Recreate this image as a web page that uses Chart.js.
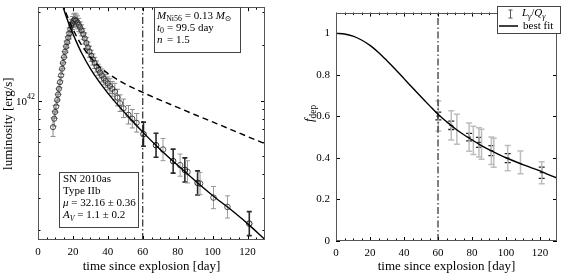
<!DOCTYPE html>
<html>
<head>
<meta charset="utf-8">
<script src="https://cdn.jsdelivr.net/npm/chart.js@4.4.1/dist/chart.umd.min.js"></script>
<style>
html, body { margin: 0; padding: 0; background: #fff; }
#wrap { position: relative; width: 562px; height: 275px; }
canvas { position: absolute; top: 0; }
</style>
</head>
<body>
<div id="wrap">
  <canvas id="lumChart" style="left:0;width:280px;height:275px"></canvas>
  <canvas id="depChart" style="left:280px;width:282px;height:275px"></canvas>
</div>
<script>
// axes
const dayTicks = [0, 20, 40, 60, 80, 100, 120];
const dayMinor = [5, 10, 15, 25, 30, 35, 45, 50, 55, 65, 70, 75, 85, 90, 95, 105, 110, 115, 125];
const dayRange = [0, 130];
const lumTicks = [2e41, 3e41, 4e41, 5e41, 6e41, 7e41, 8e41, 9e41, 1e42, 2e42, 3e42];
const lumRange = [1.77e41, 3.2e42];
const depTicks = [0, 0.2, 0.4, 0.6, 0.8, 1];
const depRange = [0, 1.1];
const markerDay = 60;

// left panel: bolometric light curve (erg/s), errors in dex
const earlyDays = [8.6, 9.3, 9.8, 10.4, 11.0, 11.5, 12.0, 12.6, 13.2, 13.8,
  14.3, 14.9, 15.5, 16.1, 16.7, 17.3, 17.9, 18.5, 19.1, 19.7,
  20.4, 21.1, 21.8, 22.6, 23.4, 24.2, 25.0, 25.9, 26.8, 27.7,
  28.6, 29.5, 30.5, 31.5, 32.5, 33.5, 34.5, 35.5, 36.6, 37.7,
  38.8, 40.0, 41.2, 42.5, 44.0, 45.5, 47.0, 49.0, 51.8, 54.0, 56.5];
const earlyLum = [0.72e42, 0.80e42, 0.87e42, 0.93e42, 1.01e42, 1.08e42, 1.16e42, 1.26e42, 1.37e42, 1.49e42,
  1.60e42, 1.72e42, 1.84e42, 1.96e42, 2.07e42, 2.19e42, 2.31e42, 2.43e42, 2.54e42, 2.63e42,
  2.71e42, 2.74e42, 2.71e42, 2.65e42, 2.57e42, 2.49e42, 2.40e42, 2.29e42, 2.17e42, 2.05e42,
  1.94e42, 1.84e42, 1.75e42, 1.67e42, 1.60e42, 1.53e42, 1.47e42, 1.42e42, 1.37e42, 1.32e42,
  1.28e42, 1.24e42, 1.20e42, 1.16e42, 1.12e42, 1.04e42, 0.97e42, 0.91e42, 0.84e42, 0.80e42, 0.76e42];
const earlyErr = [0.05, 0.04, 0.035, 0.03, 0.03, 0.03, 0.03, 0.03, 0.03, 0.03,
  0.03, 0.03, 0.03, 0.03, 0.03, 0.03, 0.03, 0.035, 0.035, 0.035,
  0.035, 0.035, 0.035, 0.035, 0.035, 0.03, 0.03, 0.03, 0.03, 0.03,
  0.03, 0.03, 0.03, 0.03, 0.03, 0.03, 0.03, 0.03, 0.035, 0.035,
  0.035, 0.035, 0.04, 0.04, 0.045, 0.045, 0.045, 0.05, 0.05, 0.05, 0.05];

const lateBlackDays = [60.4, 67.6, 77.4, 84.1, 91.4, 121];
const lateBlackLum = [6.6e41, 5.75e41, 4.72e41, 4.23e41, 3.6e41, 2.17e41];
const lateBlackErr = [0.065, 0.065, 0.065, 0.065, 0.065, 0.065];
const lateGreyDays = [71.6, 81.4, 85.6, 92.8, 100.5, 108.5];
const lateGreyLum = [5.45e41, 4.49e41, 4.13e41, 3.57e41, 3.0e41, 2.67e41];
const lateGreyErr = [0.06, 0.06, 0.06, 0.06, 0.06, 0.06];

const modelDays = [13, 14, 15, 16, 18, 20, 22, 25, 30, 35, 40, 45, 50, 55, 60, 70, 80, 90, 100, 110, 120, 130];
const modelLum = [3.50e42, 3.27e42, 3.07e42, 2.88e42, 2.56e42, 2.30e42, 2.08e42, 1.81e42, 1.49e42, 1.267e42, 1.099e42,
  0.965e42, 0.856e42, 0.760e42, 0.677e42, 0.546e42, 0.448e42, 0.370e42, 0.308e42, 0.260e42, 0.217e42, 0.178e42];
const fullDays = [14, 15, 16, 18, 20, 22, 25, 30, 35, 40, 50, 60, 70, 80, 90, 100, 110, 120, 130];
const fullLum = [3.37e42, 3.17e42, 2.99e42, 2.69e42, 2.44e42, 2.235e42, 1.995e42, 1.717e42, 1.534e42, 1.405e42,
  1.231e42, 1.109e42, 1.008e42, 0.920e42, 0.840e42, 0.768e42, 0.702e42, 0.641e42, 0.586e42];

// right panel: deposition fraction
const depBlackDays = [60.2, 67.8, 78.3, 84.1, 91.4, 101, 121];
const depBlackVals = [0.602, 0.557, 0.500, 0.475, 0.435, 0.399, 0.329];
const depBlackErr = [0.019, 0.02, 0.018, 0.024, 0.024, 0.022, 0.027];
const depGreyDays = [60.2, 67.8, 71.1, 78.3, 80.8, 84.1, 85.6, 91.4, 92.8, 101, 108.5, 121];
const depGreyVals = [0.602, 0.557, 0.538, 0.500, 0.485, 0.475, 0.466, 0.435, 0.425, 0.399, 0.379, 0.329];
const depGreyErr = [0.072, 0.07, 0.072, 0.068, 0.068, 0.07, 0.072, 0.066, 0.07, 0.061, 0.055, 0.053];
const fitDays = [0, 5, 10, 15, 20, 25, 30, 35, 40, 45, 50, 55, 60, 65, 70, 75, 80, 85, 90, 95, 100, 105, 110, 115, 120, 125, 130];
const fitDep = [1.000, 0.997, 0.987, 0.968, 0.942, 0.908, 0.868, 0.826, 0.782, 0.738, 0.695, 0.652, 0.610, 0.575,
  0.542, 0.513, 0.487, 0.462, 0.440, 0.420, 0.401, 0.384, 0.368, 0.352, 0.338, 0.320, 0.303];

const serif = "'Liberation Serif', 'DejaVu Serif', serif";
const pts = (xs, ys) => xs.map((x, i) => ({ x: x, y: ys[i] }));

function mathText(ctx, parts, x, y, size) {
  let cx = x;
  parts.forEach(([t, s]) => {
    let fs = size, dy = 0, it = false;
    if (s === 'i') it = true;
    if (s === 'sub') { fs = size * 0.72; dy = size * 0.3; }
    if (s === 'isub') { fs = size * 0.72; dy = size * 0.3; it = true; }
    if (s === 'sup') { fs = size * 0.72; dy = -size * 0.4; }
    ctx.font = (it ? 'italic ' : '') + fs + 'px ' + serif;
    ctx.fillText(t, cx, y + dy);
    cx += ctx.measureText(t).width;
  });
  return cx;
}

const errorBars = {
  id: 'errorBars',
  beforeDatasetsDraw(chart) {
    const ctx = chart.ctx, xs = chart.scales.x, ys = chart.scales.y, a = chart.chartArea;
    ctx.save();
    ctx.beginPath();
    ctx.rect(a.left, a.top, a.right - a.left, a.bottom - a.top);
    ctx.clip();
    chart.data.datasets.forEach(ds => {
      if (!ds.err) return;
      ctx.strokeStyle = ds.errColor;
      ctx.lineWidth = ds.errWidth;
      ds.data.forEach((p, j) => {
        const e = ds.err[j];
        const lo = ds.logErr ? p.y / Math.pow(10, e) : p.y - e;
        const hi = ds.logErr ? p.y * Math.pow(10, e) : p.y + e;
        const px = xs.getPixelForValue(p.x);
        const y1 = ys.getPixelForValue(lo), y2 = ys.getPixelForValue(hi);
        const c = ds.cap;
        ctx.beginPath();
        ctx.moveTo(px, y1); ctx.lineTo(px, y2);
        ctx.moveTo(px - c, y1); ctx.lineTo(px + c, y1);
        ctx.moveTo(px - c, y2); ctx.lineTo(px + c, y2);
        ctx.stroke();
      });
    });
    ctx.restore();
  }
};

// frame, inward ticks on all sides, text boxes
const frame = {
  id: 'frame',
  afterDatasetsDraw(chart, args, opts) {
    const ctx = chart.ctx, a = chart.chartArea, xs = chart.scales.x, ys = chart.scales.y;
    ctx.save();
    ctx.strokeStyle = '#000';
    ctx.lineWidth = 1;
    const tick = (vals, len) => {
      vals.forEach(v => {
        const px = Math.round(xs.getPixelForValue(v)) + 0.5;
        ctx.beginPath();
        ctx.moveTo(px, a.bottom); ctx.lineTo(px, a.bottom - len);
        ctx.moveTo(px, a.top); ctx.lineTo(px, a.top + len);
        ctx.stroke();
      });
    };
    tick(dayTicks, 4);
    tick(dayMinor, 2.5);
    opts.yTicks.forEach(v => {
      const py = Math.round(ys.getPixelForValue(v)) + 0.5;
      const len = v === opts.yMajor || opts.yMajor === undefined ? 4 : 2.5;
      ctx.beginPath();
      ctx.moveTo(a.left, py); ctx.lineTo(a.left + len, py);
      ctx.moveTo(a.right, py); ctx.lineTo(a.right - len, py);
      ctx.stroke();
    });
    ctx.strokeStyle = '#555';
    ctx.strokeRect(Math.round(a.left) + 0.5, Math.round(a.top) + 0.5,
      Math.round(a.right - a.left) - 1, Math.round(a.bottom - a.top) - 1);
    ctx.restore();
    if (opts.draw) opts.draw(ctx, chart);
  }
};

function drawLumText(ctx, chart) {
  const ys = chart.scales.y;
  ctx.save();
  ctx.fillStyle = '#000';
  ctx.textBaseline = 'middle';
  // y tick label 10^42
  const py = ys.getPixelForValue(1e42);
  ctx.font = '11px ' + serif;
  const w1 = ctx.measureText('10').width;
  ctx.font = '8px ' + serif;
  const w2 = ctx.measureText('42').width;
  mathText(ctx, [['10', 'r'], ['42', 'sup']], 35 - w1 - w2, py + 1, 11);

  ctx.strokeStyle = '#444';
  ctx.lineWidth = 1;
  ctx.fillStyle = '#fff';
  ctx.fillRect(154.5, 7.5, 86, 45);
  ctx.strokeRect(154.5, 7.5, 86, 45);
  ctx.fillRect(59.5, 172.5, 79, 55);
  ctx.strokeRect(59.5, 172.5, 79, 55);
  ctx.fillStyle = '#000';
  mathText(ctx, [['M', 'i'], ['Ni56', 'sub'], [' = 0.13 ', 'r'], ['M', 'i'], ['\u2299', 'sub']], 157, 16, 11);
  mathText(ctx, [['t', 'i'], ['0', 'sub']], 157, 28, 11);
  mathText(ctx, [['= 99.5 day', 'r']], 167, 28, 11);
  mathText(ctx, [['n', 'i']], 157, 40, 11);
  mathText(ctx, [['= 1.5', 'r']], 167, 40, 11);

  mathText(ctx, [['SN 2010as', 'r']], 63, 179, 11);
  mathText(ctx, [['Type IIb', 'r']], 63, 191, 11);
  mathText(ctx, [['\u03bc', 'i'], [' = 32.16 \u00b1 0.36', 'r']], 63, 203.5, 11);
  mathText(ctx, [['A', 'i'], ['V', 'isub'], [' = 1.1 \u00b1 0.2', 'r']], 63, 215.5, 11);
  ctx.restore();
}

function drawDepText(ctx, chart) {
  ctx.save();
  ctx.fillStyle = '#000';
  ctx.textBaseline = 'middle';
  // y title f_dep
  ctx.translate(30, 113);
  ctx.rotate(-Math.PI / 2);
  ctx.textAlign = 'left';
  mathText(ctx, [['f', 'i'], ['dep', 'sub']], -9, 0, 13);
  ctx.setTransform(1, 0, 0, 1, 0, 0);
  // legend box
  ctx.strokeStyle = '#444';
  ctx.lineWidth = 1;
  ctx.fillStyle = '#fff';
  ctx.fillRect(217.5, 6.5, 63, 27);
  ctx.strokeRect(217.5, 6.5, 63, 27);
  ctx.strokeStyle = '#555';
  ctx.beginPath();
  ctx.moveTo(230.5, 10); ctx.lineTo(230.5, 18);
  ctx.moveTo(228.5, 10); ctx.lineTo(232.5, 10);
  ctx.moveTo(228.5, 18); ctx.lineTo(232.5, 18);
  ctx.stroke();
  ctx.strokeStyle = '#000';
  ctx.lineWidth = 1.5;
  ctx.beginPath();
  ctx.moveTo(219, 26); ctx.lineTo(238, 26);
  ctx.stroke();
  ctx.fillStyle = '#000';
  mathText(ctx, [['L', 'i'], ['\u03b3', 'isub'], ['/', 'r'], ['Q', 'i'], ['\u03b3', 'isub']], 242, 13.5, 11);
  mathText(ctx, [['best fit', 'r']], 243, 26, 11);
  ctx.restore();
}

const xAxis = (h) => ({
  type: 'linear', min: dayRange[0], max: dayRange[1],
  afterBuildTicks: s => { s.ticks = dayTicks.map(v => ({ value: v })); },
  afterFit: s => { s.height = h; },
  grid: { display: false, drawTicks: false },
  border: { display: false },
  ticks: { color: '#000', padding: 6, font: { family: serif, size: 11 } },
  title: { display: true, text: 'time since explosion [day]', color: '#000',
    font: { family: serif, size: 13 }, padding: { top: 0, bottom: 1 } }
});

new Chart(document.getElementById('lumChart'), {
  type: 'scatter',
  data: {
    datasets: [
      { type: 'line', data: pts(modelDays, modelLum), borderColor: '#000', borderWidth: 1.4,
        pointRadius: 0, cubicInterpolationMode: 'monotone' },
      { type: 'line', data: pts(fullDays, fullLum), borderColor: '#000', borderWidth: 1.4,
        borderDash: [6, 4], pointRadius: 0, cubicInterpolationMode: 'monotone' },
      { type: 'line', data: [{ x: markerDay, y: lumRange[0] }, { x: markerDay, y: lumRange[1] }],
        borderColor: '#000', borderWidth: 1, borderDash: [7, 2.5, 1.5, 2.5], pointRadius: 0 },
      { data: pts(lateBlackDays, lateBlackLum), err: lateBlackErr, logErr: true, errColor: '#2a2a2a',
        errWidth: 1.6, cap: 2.5, pointRadius: 2.8, borderColor: '#111', borderWidth: 0.9,
        backgroundColor: 'rgba(0,0,0,0)' },
      { data: pts(lateGreyDays, lateGreyLum), err: lateGreyErr, logErr: true, errColor: '#9a9a9a',
        errWidth: 1, cap: 2.5, pointRadius: 2.8, borderColor: '#333', borderWidth: 0.8,
        backgroundColor: 'rgba(0,0,0,0)' },
      { data: pts(earlyDays, earlyLum), err: earlyErr, logErr: true, errColor: '#8a8a8a',
        errWidth: 1, cap: 2.5, pointRadius: 2.6, borderColor: '#222', borderWidth: 0.8,
        backgroundColor: 'rgba(0,0,0,0)' }
    ]
  },
  options: {
    responsive: false,
    animation: false,
    layout: { padding: { top: 1, right: 15, left: 0, bottom: 0 } },
    plugins: {
      legend: { display: false }, tooltip: { enabled: false },
      frame: { yTicks: lumTicks, yMajor: 1e42, draw: drawLumText }
    },
    scales: {
      x: xAxis(35),
      y: {
        type: 'logarithmic', min: lumRange[0], max: lumRange[1],
        afterBuildTicks: s => { s.ticks = lumTicks.map(v => ({ value: v })); },
        afterFit: s => { s.width = 38; },
        grid: { display: false, drawTicks: false },
        border: { display: false },
        ticks: { callback: () => '', padding: 0 },
        title: { display: true, text: 'luminosity [erg/s]', color: '#000',
          font: { family: serif, size: 13 }, padding: { top: 1, bottom: 0 } }
      }
    }
  },
  plugins: [errorBars, frame]
});

new Chart(document.getElementById('depChart'), {
  type: 'scatter',
  data: {
    datasets: [
      { type: 'line', data: pts(fitDays, fitDep), borderColor: '#000', borderWidth: 1.4,
        pointRadius: 0, cubicInterpolationMode: 'monotone' },
      { type: 'line', data: [{ x: markerDay, y: depRange[0] }, { x: markerDay, y: depRange[1] }],
        borderColor: '#000', borderWidth: 1, borderDash: [7, 2.5, 1.5, 2.5], pointRadius: 0 },
      { data: pts(depBlackDays, depBlackVals), err: depBlackErr, errColor: '#222', errWidth: 1.3,
        cap: 3, pointStyle: 'line', pointRadius: 2, borderColor: '#222', borderWidth: 1 },
      { data: pts(depGreyDays, depGreyVals), err: depGreyErr, errColor: '#bdbdbd', errWidth: 1.5,
        cap: 3, pointRadius: 0 }
    ]
  },
  options: {
    responsive: false,
    animation: false,
    layout: { padding: { top: 1, right: 1, left: 0, bottom: 0 } },
    plugins: {
      legend: { display: false }, tooltip: { enabled: false },
      frame: { yTicks: depTicks, draw: drawDepText }
    },
    scales: {
      x: xAxis(34),
      y: {
        type: 'linear', min: depRange[0], max: depRange[1],
        afterBuildTicks: s => { s.ticks = depTicks.map(v => ({ value: v })); },
        afterFit: s => { s.width = 56; },
        grid: { display: false, drawTicks: false },
        border: { display: false },
        ticks: { color: '#000', padding: 6, font: { family: serif, size: 11 }, callback: v => String(v) }
      }
    }
  },
  plugins: [errorBars, frame]
});
</script>
</body>
</html>
